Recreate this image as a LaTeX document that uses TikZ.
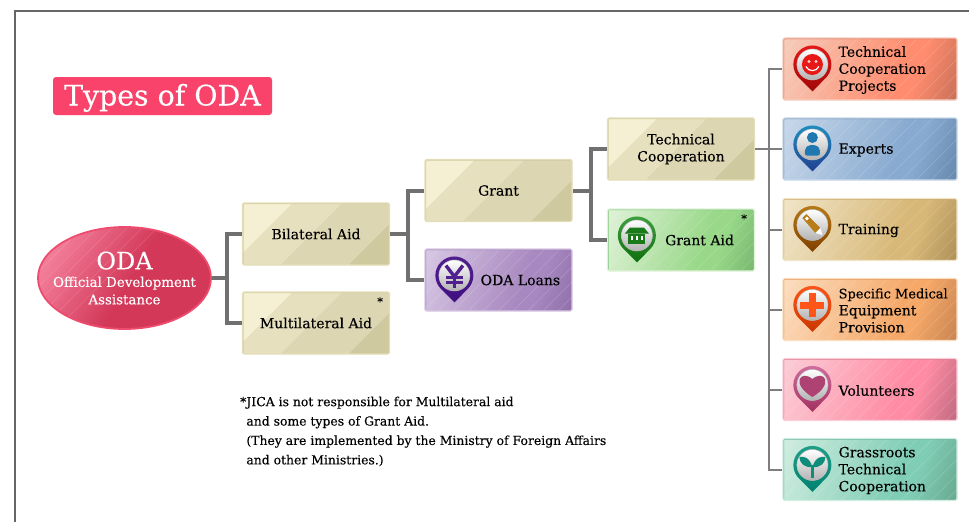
\documentclass[tikz,border=0pt]{standalone}
\usepackage{fontspec}
\setmainfont{DejaVu Serif}[FakeBold=0.2]
\usetikzlibrary{calc, shapes.geometric}

\definecolor{frame-gray}{HTML}{666666}
\definecolor{line-gray}{HTML}{707070}
\definecolor{title-red}{HTML}{F9436B}
\definecolor{oda-light}{HTML}{F27C98}
\definecolor{oda-main}{HTML}{D33859}
\definecolor{oda-dark}{HTML}{D33859}
\definecolor{oda-edge}{HTML}{EE4C6E}
\definecolor{beige-a}{HTML}{F5F0D4}
\definecolor{beige-b}{HTML}{E6E0BF}
\definecolor{beige-c}{HTML}{DCD6B3}
\definecolor{beige-d}{HTML}{CFC9A0}
\definecolor{beige-edge}{HTML}{E4DEB8}

\definecolor{tcp-light}{HTML}{F5CDBC}
\definecolor{tcp-main}{HTML}{FF8C6E}
\definecolor{tcp-dark}{HTML}{C87058}
\definecolor{tcp-edge}{HTML}{D86850}
\definecolor{tcp-ring}{HTML}{E81818}
\definecolor{tcp-tip}{HTML}{A00808}
\definecolor{exp-light}{HTML}{C8D8EA}
\definecolor{exp-main}{HTML}{88AAD0}
\definecolor{exp-dark}{HTML}{6588AC}
\definecolor{exp-edge}{HTML}{6688B0}
\definecolor{exp-ring}{HTML}{2090C0}
\definecolor{exp-tip}{HTML}{204090}
\definecolor{trn-light}{HTML}{F0E5C8}
\definecolor{trn-main}{HTML}{D8B878}
\definecolor{trn-dark}{HTML}{AE9058}
\definecolor{trn-edge}{HTML}{C8A060}
\definecolor{trn-ring}{HTML}{B87C18}
\definecolor{trn-tip}{HTML}{804000}
\definecolor{med-light}{HTML}{FBDDBF}
\definecolor{med-main}{HTML}{F5A868}
\definecolor{med-dark}{HTML}{C88450}
\definecolor{med-edge}{HTML}{E09050}
\definecolor{med-ring}{HTML}{FF5518}
\definecolor{med-tip}{HTML}{C83800}
\definecolor{vol-light}{HTML}{FBCDD6}
\definecolor{vol-main}{HTML}{FF8CA4}
\definecolor{vol-dark}{HTML}{C06A80}
\definecolor{vol-edge}{HTML}{D87088}
\definecolor{vol-ring}{HTML}{D070A0}
\definecolor{vol-tip}{HTML}{A03060}
\definecolor{grs-light}{HTML}{D0EDE0}
\definecolor{grs-main}{HTML}{80CDB5}
\definecolor{grs-dark}{HTML}{68A890}
\definecolor{grs-edge}{HTML}{60B098}
\definecolor{grs-ring}{HTML}{20A088}
\definecolor{grs-tip}{HTML}{008070}
\definecolor{gnt-light}{HTML}{E0F2D8}
\definecolor{gnt-main}{HTML}{98D888}
\definecolor{gnt-dark}{HTML}{78B870}
\definecolor{gnt-edge}{HTML}{70C070}
\definecolor{gnt-ring}{HTML}{40A040}
\definecolor{gnt-tip}{HTML}{107010}
\definecolor{lon-light}{HTML}{D8C8E4}
\definecolor{lon-main}{HTML}{A888C0}
\definecolor{lon-dark}{HTML}{9070A8}
\definecolor{lon-edge}{HTML}{9878B0}
\definecolor{lon-ring}{HTML}{502090}
\definecolor{lon-tip}{HTML}{401080}

\newcommand{\stripeshade}[1]{
    \pgfdeclarehorizontalshading{#1-shade}{100bp}{
        color(0bp)=(#1-light); color(18bp)=(#1-light); color(60bp)=(#1-main);
        color(66bp)=(#1-main); color(82bp)=(#1-dark); color(100bp)=(#1-dark)}
}
\stripeshade{tcp}
\stripeshade{exp}
\stripeshade{trn}
\stripeshade{med}
\stripeshade{vol}
\stripeshade{grs}
\stripeshade{gnt}
\stripeshade{lon}
\pgfdeclarehorizontalshading{oda-shade}{100bp}{
    color(0bp)=(oda-light); color(25bp)=(oda-light); color(52bp)=(oda-main); color(100bp)=(oda-main)}

\begin{document}
\begin{tikzpicture}[x = 1pt, y = -1pt]
            \tikzset{
                box-text/.style = {
                    font = \fontsize{14}{17}\selectfont,
                    align = center,
                    text = black,
                },
                beige-box/.style = {
                    box-text,
                    draw = beige-edge,
                    line width = 1.2pt,
                    rounded corners = 1.5pt,
                    fill = beige-b,
                    minimum width = 147pt,
                    minimum height = 62pt,
                    path picture = {
                        \coordinate (nw) at (path picture bounding box.north west);
                        \fill[beige-a] (nw) -- ++(50, 0) -- ++(-50, 50) -- cycle;
                        \fill[beige-c] ($(nw) + (100, 0)$) -- ++(50, 0) -- ++(0, 18)
                            -- ++(-44, 44) -- ++(-68, 0) -- cycle;
                        \fill[beige-d] ($(nw) + (150, 18)$) -- ++(0, 44) -- ++(-44, 0) -- cycle;
                        \draw[beige-d, line width = 2pt] (path picture bounding box.south west)
                            -- (nw) -- (path picture bounding box.north east);
                    },
                },
                stripe-box/.style = {
                    box-text,
                    draw = #1-light,
                    line width = 1.2pt,
                    rounded corners = 1.5pt,
                    shade,
                    shading = #1-shade,
                    shading angle = -20,
                    path picture = {
                        \foreach \d in {-60, -45, ..., 240}{
                            \draw[white, opacity = 0.18, line width = 0.4pt]
                                ($(path picture bounding box.north west) + (\d, 0)$) -- ++(-120, 120);
                        }
                        \draw[#1-edge, line width = 2pt] (path picture bounding box.south west)
                            -- (path picture bounding box.north west) -- (path picture bounding box.north east);
                    },
                },
                small-box/.style = {
                    stripe-box = #1,
                    minimum width = 147pt,
                    minimum height = 62pt,
                },
                wide-box/.style = {
                    stripe-box = #1,
                    minimum width = 174pt,
                    minimum height = 62pt,
                },
                pin-text/.style = {
                    box-text,
                    align = left,
                    anchor = west,
                    inner sep = 0pt,
                },
                star-text/.style = {
                    font = \fontsize{11}{11}\selectfont,
                    inner sep = 0pt,
                },
                trunk/.style = {line-gray, line width = 4pt},
                branch/.style = {line-gray!90, line width = 2pt},
                pics/pin-pic/.style = {
                    code = {
                        \shade[top color = #1-ring, bottom color = #1-tip]
                            (-13.4, 13.4) -- (0, 26.9) -- (13.4, 13.4)
                            arc[start angle = 45, end angle = -225, radius = 19] -- cycle;
                        \shade[top color = white, bottom color = black!30, draw = black!25, line width = 0.5pt]
                            (0, 0) circle[radius = 15.5];
                    }
                },
                smile-pic/.pic = {
                    \fill[tcp-ring] (0, 0) circle[radius = 10.5];
                    \fill[white!80!tcp-ring] (-3.5, -3) circle[radius = 1.6] (3.5, -3) circle[radius = 1.6];
                    \draw[white, line width = 1.2pt] (-6.5, 2) .. controls (-4, 7.5) and (4, 7.5) .. (6.5, 2);
                },
                person-pic/.pic = {
                    \fill[exp-ring!70!exp-tip] (0, -7) circle[radius = 5.5];
                    \fill[exp-ring!70!exp-tip, rounded corners = 2pt]
                        (-7.5, 11) -- (-7.5, 4) -- (-3.5, 0.5) -- (3.5, 0.5) -- (7.5, 4) -- (7.5, 11) -- cycle;
                },
                pencil-pic/.pic = {
                    \fill[trn-ring] (-10, -7) -- (-6, -11) -- (8, 3) -- (3, 8) -- cycle;
                    \fill[white] (3, 8) -- (8, 3) -- (10, 10) -- cycle;
                    \fill[white] (-7.5, -6.5) -- (-5.5, -8.5) -- (-3.5, -6.5) -- (-5.5, -4.5) -- cycle;
                },
                cross-pic/.pic = {
                    \fill[med-ring] (-3.5, -12) rectangle (3.5, 12);
                    \fill[med-ring] (-12, -3.5) rectangle (12, 3.5);
                },
                heart-pic/.pic = {
                    \fill[vol-tip!70!vol-ring] (0, 12) .. controls (-22, -1) and (-12, -16) .. (0, -6)
                        .. controls (12, -16) and (22, -1) .. (0, 12) -- cycle;
                },
                sprout-pic/.pic = {
                    \draw[grs-tip!60!grs-ring, line width = 2.6pt] (0, 13) -- (0, 0);
                    \fill[grs-tip!60!grs-ring] (0, 2) .. controls (-3, -8) and (-9, -9) .. (-13, -8)
                        .. controls (-13, -2) and (-8, 3) .. (0, 2) -- cycle;
                    \fill[grs-tip!60!grs-ring] (0, 2) .. controls (3, -8) and (9, -9) .. (13, -8)
                        .. controls (13, -2) and (8, 3) .. (0, 2) -- cycle;
                },
                house-pic/.pic = {
                    \fill[gnt-tip!80!gnt-ring] (-7, -8) -- (7, -8) -- (12, -2) -- (-12, -2) -- cycle;
                    \fill[gnt-tip!80!gnt-ring] (-8.5, -2) rectangle (8.5, 8);
                    \foreach \a in {-5, 0, 5}{
                        \fill[white] (\a - 1.2, 0.5) rectangle (\a + 1.2, 4.5);
                    }
                },
                yen-pic/.pic = {
                    \draw[lon-ring, line width = 3.4pt] (-8.5, -10) -- (0, 1) -- (8.5, -10);
                    \draw[lon-ring, line width = 3.4pt] (0, 1) -- (0, 12);
                    \draw[lon-ring, line width = 2.6pt] (-8.5, 2) -- (8.5, 2) (-8.5, 7) -- (8.5, 7);
                },
            }

            \useasboundingbox (0, 0) rectangle (969, 522);
            \draw[frame-gray, line width = 1.2pt] (15, 522) -- (15, 11) -- (969, 11);

            \node[fill = title-red, rounded corners = 3pt, minimum width = 219pt, minimum height = 38pt,
                text = white, font = \fontsize{28.4}{28}\selectfont, inner sep = 0pt,
                text height = 19pt, text depth = 0pt] (title) at (162.5, 96) {Types of ODA};

            \node[ellipse, draw = oda-edge, line width = 1.8pt, shade, shading = oda-shade, shading angle = -31,
                text = white, inner sep = -20pt, align = center,
                font = \fontsize{13.4}{17.5}\selectfont, minimum width = 173pt, minimum height = 102pt,
                path picture = {
                    \foreach \d in {-60, -45, ..., 120}{
                        \draw[white, opacity = 0.15, line width = 0.4pt]
                            ($(path picture bounding box.north west) + (\d, 0)$) -- ++(-120, 120);
                    }
                }]
                (oda) at (124.5, 278) {{\fontsize{24}{25}\selectfont ODA}\\Official Development\\Assistance};

            \node[beige-box] (bilateral) at (316, 234) {Bilateral Aid};
            \node[beige-box] (multilateral) at (316, 323) {Multilateral Aid};
            \node[beige-box] (grant) at (498.5, 190.5) {Grant};
            \node[small-box = lon] (loans) at (498.5, 280) {};
            \node[beige-box] (technical) at (681, 149) {Technical\\Cooperation};
            \node[small-box = gnt] (grant-aid) at (681, 240) {};

            \node[pin-text] (loans-text) at ($(loans.west) + (56, 0)$) {ODA Loans};
            \node[pin-text] (grant-aid-text) at ($(grant-aid.west) + (58, 0)$) {Grant Aid};
            \node[star-text] (multilateral-star) at ($(multilateral.north east) + (-10, 10)$) {*};
            \node[star-text] (grant-aid-star) at ($(grant-aid.north east) + (-11, 10)$) {*};

            \coordinate (left-trunk) at (227, 278);
            \coordinate (mid-trunk) at (408, 234);
            \coordinate (grant-trunk) at (590.5, 190.5);
            \coordinate (right-trunk) at (769, 149);

            \draw[trunk] (oda.east) -- (left-trunk);
            \draw[trunk] (bilateral.west) -| (left-trunk) |- (multilateral.west);
            \draw[trunk] (bilateral.east) -- (mid-trunk);
            \draw[trunk] (grant.west) -| (mid-trunk) |- (loans.west);
            \draw[trunk] (grant.east) -- (grant-trunk);
            \draw[trunk] (technical.west) -| (grant-trunk) |- (grant-aid.west);
            \draw[branch] (technical.east) -- (right-trunk);

            \foreach \nm/\yy/\txt in {
                tcp/69/{Technical\\Cooperation\\Projects},
                exp/149/{Experts},
                trn/229.5/{Training},
                med/309.5/{{\fontsize{13}{17}\selectfont Specific Medical}\\Equipment\\Provision},
                vol/389.5/{Volunteers},
                grs/469.5/{Grassroots\\Technical\\Cooperation}}{
                \node[wide-box = \nm] (\nm) at (870, \yy) {};
                \node[pin-text] (\nm-text) at ($(\nm.west) + (56, 1)$) {\txt};
                \coordinate (\nm-pin) at ($(\nm.west) + (30, -4.5)$);
                \pic at (\nm-pin) {pin-pic = \nm};
                \draw[branch] (right-trunk) |- (\nm.west);
            }

            \coordinate (lon-pin) at ($(loans.west) + (30, -4.5)$);
            \coordinate (gnt-pin) at ($(grant-aid.west) + (30, -4.5)$);
            \pic at (lon-pin) {pin-pic = lon};
            \pic at (gnt-pin) {pin-pic = gnt};

            \pic at (tcp-pin) {smile-pic};
            \pic at (exp-pin) {person-pic};
            \pic at (trn-pin) {pencil-pic};
            \pic at (med-pin) {cross-pic};
            \pic at (vol-pin) {heart-pic};
            \pic at (grs-pin) {sprout-pic};
            \pic at (gnt-pin) {house-pic};
            \pic at (lon-pin) {yen-pic};

            \node[anchor = north west, align = left, inner sep = 0pt, font = \fontsize{12.4}{19.4}\selectfont]
                (note) at (240, 396.5) {*JICA is not responsible for Multilateral aid\\
                \phantom{*}and some types of Grant Aid.\\
                \phantom{*}(They are implemented by the Ministry of Foreign Affairs\\
                \phantom{*}and other Ministries.)};
        \end{tikzpicture}
\end{document}
